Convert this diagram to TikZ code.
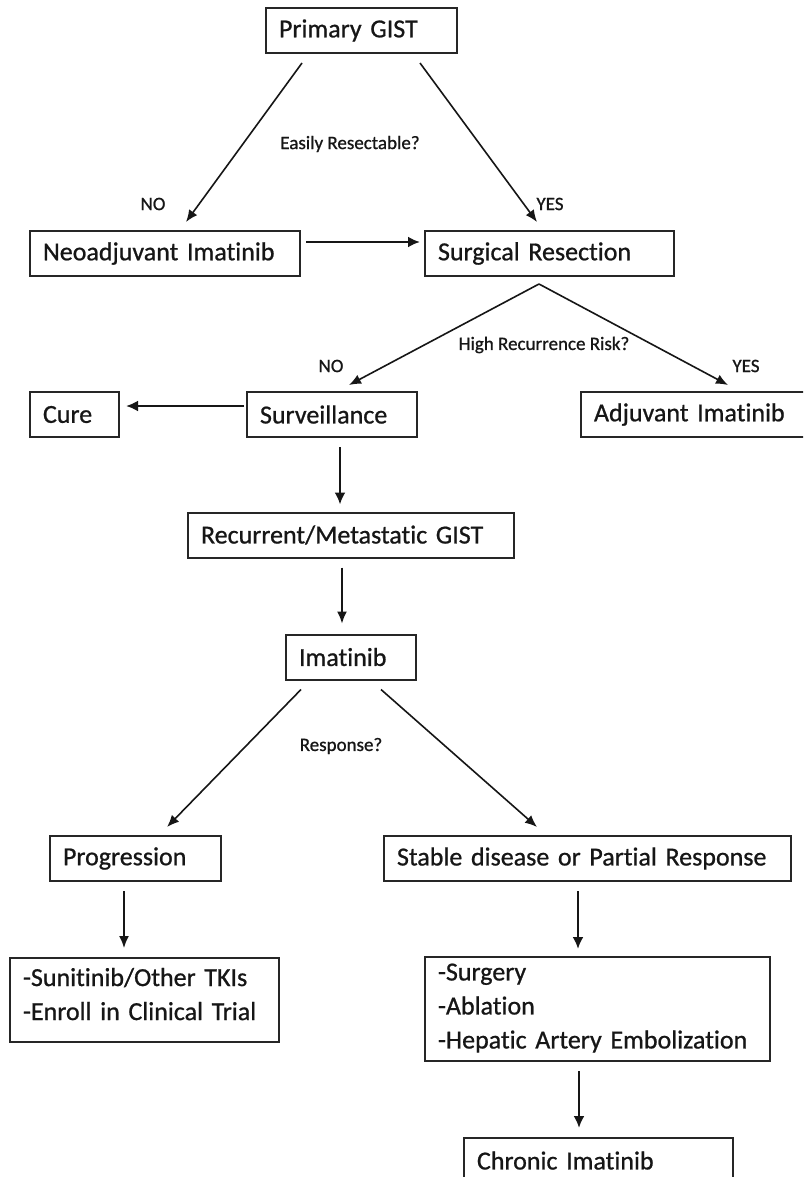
\documentclass[tikz,border=0pt]{standalone}
\usepackage{fontspec}
\setmainfont{Carlito}[Ligatures=NoCommon, FakeBold=0.8]
\usetikzlibrary{positioning,arrows.meta,calc}
\definecolor{ink}{HTML}{161616}
\definecolor{edge}{HTML}{262626}
\tikzset{
  box/.style={draw=edge, line width=2pt, fill=white, align=left,
    inner xsep=13pt, inner ysep=0pt, minimum height=45pt, text=ink},
  w/.style={text width=#1},
  arr/.style={-{Latex[length=12pt,width=10pt]}, line width=1.6pt, color=ink},
  barr/.style={-{Latex[length=12pt,width=11pt]}, line width=2.6pt, color=ink},
  lab/.style={font=\fontsize{19pt}{22pt}\selectfont, text=ink, inner sep=0pt},
}

\begin{document}
\begin{tikzpicture}[x=1pt, y=-1pt, font=\fontsize{26pt}{34pt}\selectfont]
  \clip (0,0) rectangle (803,1177);
  \fill[white] (0,0) rectangle (803,1177);
  % boxes
  \node[box, w=165pt] (prim) at (361.5,30.5) {Primary GIST};
  \node[box, w=244pt] (neo) at (165,253.5) {Neoadjuvant Imatinib};
  \node[box, w=223pt] (surg) at (549.5,253.5) {Surgical Resection};
  \node[box, w=63pt] (cure) at (74.5,414.5) {Cure};
  \node[box, w=144pt] (surv) at (332,414.5) {Surveillance};
  \node[box, w=213pt] (adj) at (700.5,414.5) {Adjuvant Imatinib};
  \node[box, w=300pt] (rec) at (351,535) {Recurrent/Metastatic GIST};
  \node[box, w=104pt] (ima) at (351,657) {Imatinib};
  \node[box, w=145pt] (prog) at (135.5,858.5) {Progression};
  \node[box, w=381pt] (stab) at (587.5,858.5) {Stable disease or Partial Response};
  \node[box, w=243pt, minimum height=84pt] (tki) at (144.5,1000)
    {-Sunitinib/Other TKIs\\-Enroll in Clinical Trial\rule[-12pt]{0pt}{0pt}};
  \node[box, w=319pt, minimum height=104pt] (list) at (597.5,1009)
    {-Surgery\\-Ablation\\-Hepatic Artery Embolization\rule[-6pt]{0pt}{0pt}};
  \node[box, w=243pt] (chron) at (598.5,1160.5) {Chronic Imatinib};
  % questions and answers
  \node[lab] (qresect) at (350,144) {Easily Resectable?};
  \node[lab] (no1) at (153,204) {NO};
  \node[lab] (yes1) at (550,204) {YES};
  \node[lab] (qrisk) at (544,345) {High Recurrence Risk?};
  \node[lab] (no2) at (331,366) {NO};
  \node[lab] (yes2) at (746,366) {YES};
  \node[lab] (qresp) at (341,746) {Response?};
  % connectors
  \draw[arr] ([xshift=37pt,yshift=-9pt]prim.south west) -- ([xshift=157pt,yshift=8pt]neo.north west);
  \draw[arr] ([xshift=155pt,yshift=-9pt]prim.south west) -- ([xshift=113pt,yshift=8pt]surg.north west);
  \draw[barr] ([xshift=5pt,yshift=11.5pt]neo.east) -- ([xshift=-4pt,yshift=11.5pt]surg.west);
  \coordinate (fork) at ([xshift=115pt,yshift=-7pt]surg.south west);
  \draw[arr] (fork) -- ([xshift=103pt,yshift=6pt]surv.north west);
  \draw[arr] (fork) -- ([xshift=148pt,yshift=6pt]adj.north west);
  \draw[barr] ([xshift=-2pt,yshift=8.5pt]surv.west) -- ([xshift=6pt,yshift=8.5pt]cure.east);
  \draw[barr] ([xshift=94pt,yshift=-9pt]surv.south west) -- ([xshift=153pt,yshift=7pt]rec.north west);
  \draw[arr] ([xshift=155pt,yshift=-9pt]rec.south west) -- ([xshift=57pt,yshift=10pt]ima.north west);
  \draw[arr] ([xshift=16pt,yshift=-9pt]ima.south west) -- ([xshift=118pt,yshift=8pt]prog.north west);
  \draw[arr] ([xshift=96pt,yshift=-9pt]ima.south west) -- ([xshift=154pt,yshift=8pt]stab.north west);
  \draw[arr] ([xshift=75pt,yshift=-9pt]prog.south west) -- ([xshift=115pt,yshift=9pt]tki.north west);
  \draw[barr] ([xshift=195pt,yshift=-9pt]stab.south west) -- ([xshift=154pt,yshift=7pt]list.north west);
  \draw[barr] ([xshift=155pt,yshift=-9pt]list.south west) -- ([xshift=116pt,yshift=9pt]chron.north west);
\end{tikzpicture}
\end{document}
